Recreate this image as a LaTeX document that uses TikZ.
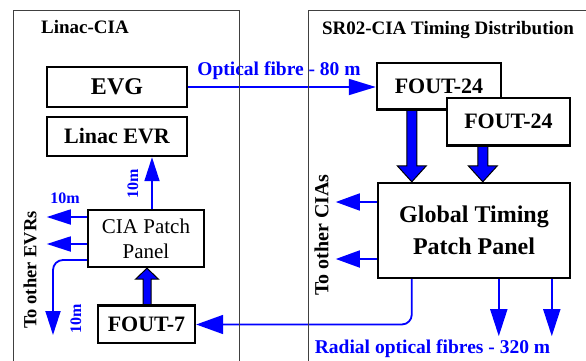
\documentclass[tikz,border=0pt]{standalone}
\usepackage{fontspec}
\setmainfont{Liberation Serif}
\usetikzlibrary{arrows.meta,calc}
\definecolor{fb}{RGB}{0,0,255}
\newcommand{\fatv}[5]{%
  \draw[fat] ($(#1)+(-#3,0)$) -- ($(#2)+(-#3,#5)$) -- ($(#2)+(-#4,#5)$) -- (#2)
    -- ($(#2)+(#4,#5)$) -- ($(#2)+(#3,#5)$) -- ($(#1)+(#3,0)$) -- cycle;}
\tikzset{
  box/.style={draw=black, line width=2.4pt, fill=white, inner sep=0pt,
    font=\fontsize{22}{24}\selectfont\bfseries},
  fibre/.style={draw=fb, line width=1.8pt, -{Triangle[length=25pt,width=16pt]}},
  fat/.style={draw=black, line width=1pt, fill=fb, line join=miter},
  lbl/.style={text=fb, font=\fontsize{19.5}{22}\selectfont\bfseries, inner sep=0pt},
  small/.style={text=fb, font=\fontsize{16}{18}\selectfont\bfseries, inner sep=0pt},
  ttl/.style={text=black, font=\fontsize{19}{21}\selectfont\bfseries, inner sep=0pt},
  frame/.style={draw=black!75, line width=0.9pt},
}
\begin{document}
\begin{tikzpicture}[x=1pt,y=-1pt]
\useasboundingbox (0,0) rectangle (586,361);

% titles
\node[ttl, anchor=base] (t1) at (85,34) {Linac-CIA};
\node[ttl, anchor=base] (t2) at (448,35) {SR02-CIA Timing Distribution};

% boxes
\node[box, minimum width=140, minimum height=40, font=\fontsize{24}{26}\selectfont\bfseries] (evg) at (117,87) {EVG};
\node[box, minimum width=140, minimum height=39] (evr) at (117,136.5) {Linac EVR};
\node[box, minimum width=124, minimum height=46] (f1) at (439,86) {FOUT-24};
\node[box, minimum width=192, minimum height=95, align=center, font=\fontsize{24}{32}\selectfont\bfseries] (g) at (474,230.5) {Global Timing\\Patch Panel};
\node[box, minimum width=116, minimum height=57, align=center, font=\fontsize{21}{25}\selectfont] (cia) at (146,238.5) {CIA Patch\\Panel};
\node[box, minimum width=97, minimum height=37] (f7) at (146.5,324.5) {FOUT-7};

% fat arrows
\coordinate (a1) at ($(f1.south west)+(36,0)$);
\coordinate (a1e) at (a1 |- g.north);
\fatv{a1}{a1e}{5}{14.5}{-16}
\node[box, minimum width=123, minimum height=47] (f2) at (508.5,121.5) {FOUT-24};
\coordinate (a2) at ($(f2.south west)+(37,0)$);
\coordinate (a2e) at (a2 |- g.north);
\fatv{a2}{a2e}{5}{14.5}{-16}
\coordinate (a3) at ($(f7.north)+(0.5,0)$);
\coordinate (a3e) at (a3 |- cia.south);
\fatv{a3}{a3e}{4}{11.5}{11}
% redraw box borders over fat arrow bases
\draw[line width=2.4pt] (f1.south west) -- (f2.west |- f1.south);
\draw[line width=2.4pt] (f2.south west) -- (f2.south east);
\draw[line width=2.4pt] (f7.north west) -- (f7.north east);

% fibre connectors
\draw[fibre, -{Triangle[length=27pt,width=16pt]}] (evg.east) -- (evg.east -| f1.west);

\coordinate (gl1) at ($(g.west)+(0,-28.5)$);
\coordinate (gl1e) at ($(gl1)+(-41,0)$);
\coordinate (gl2) at ($(g.west)+(0,28.5)$);
\coordinate (gl2e) at ($(gl2)+(-41,0)$);
\draw[fibre, -{Triangle[length=24pt,width=17pt]}] (gl1) -- (gl1e);
\draw[fibre, -{Triangle[length=24pt,width=17pt]}] (gl2) -- (gl2e);

\coordinate (gb1) at ($(g.south west)+(122,0)$);
\coordinate (gb1e) at ($(gb1)+(0,57)$);
\coordinate (gb2) at ($(g.south west)+(175,0)$);
\coordinate (gb2e) at ($(gb2)+(0,57)$);
\draw[fibre, -{Triangle[length=27pt,width=17pt]}] (gb1) -- (gb1e);
\draw[fibre, -{Triangle[length=27pt,width=17pt]}] (gb2) -- (gb2e);

\coordinate (gb0) at ($(g.south west)+(35,0)$);
\draw[fibre, rounded corners=10pt, -{Triangle[length=27pt,width=19pt]}] (gb0) |- (f7.east);

\coordinate (cu) at ($(cia.north)+(6,0)$);
\draw[fibre, -{Triangle[length=24pt,width=15pt]}] (cu) -- (cu |- evr.south);

\coordinate (cl1) at ($(cia.west)+(0,-21.5)$);
\coordinate (cl1e) at ($(cl1)+(-40,0)$);
\coordinate (cl2) at ($(cia.west)+(0,5.5)$);
\coordinate (cl2e) at ($(cl2)+(-40,0)$);
\draw[fibre, -{Triangle[length=24pt,width=15pt]}] (cl1) -- (cl1e);
\draw[fibre, -{Triangle[length=24pt,width=15pt]}] (cl2) -- (cl2e);
\coordinate (cl3) at ($(cia.west)+(0,21.5)$);
\coordinate (cl3e) at (53,335);
\draw[fibre, rounded corners=10pt, -{Triangle[length=24pt,width=15pt]}] (cl3) -| (cl3e);

% blue labels
\node[lbl, anchor=base] (lof) at (279,75) {Optical fibre - 80 m};
\node[lbl, anchor=base] (lrad) at (432.5,353) {Radial optical fibres - 320 m};
\node[small, anchor=base] (l10a) at (65,203) {10m};
\node[small, rotate=90] (l10b) at (133,184) {10m};
\node[small, rotate=90] (l10c) at (76,319) {10m};

% black rotated labels
\node[ttl, rotate=90, font=\fontsize{18.5}{20}\selectfont\bfseries] (levr) at (30,270) {To other EVRs};
\node[ttl, rotate=90, font=\fontsize{20}{22}\selectfont\bfseries] (lcia) at (321.5,235) {To other CIAs};

% frames
\draw[frame] (13,365) -- (13,10) -- (239,10) -- (239,365);
\draw[frame] (308,365) -- (308,10) -- (590,10);
\end{tikzpicture}
\end{document}
